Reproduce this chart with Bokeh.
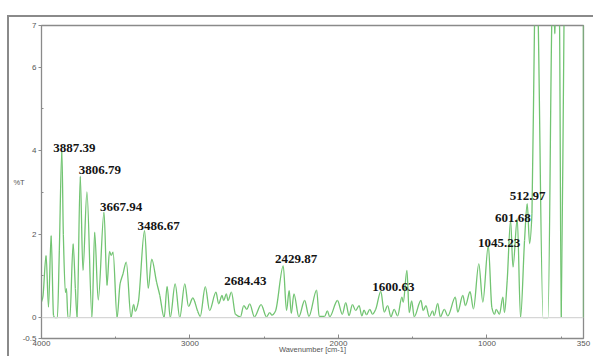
from bokeh.plotting import figure
from bokeh.models import Range1d, FixedTicker, Span, ColumnDataSource
from bokeh.core.properties import value
from bokeh.embed import file_html
from bokeh.resources import INLINE

# FTIR transmittance spectrum, wavenumber in cm-1 (descending) and %T
wavenumber = [4000, 3991, 3969, 3953, 3935, 3919, 3910, 3893, 3880, 3863,
              3853, 3839, 3832, 3822, 3809, 3787, 3772, 3760, 3739, 3721,
              3694, 3660, 3642, 3618, 3579, 3559, 3542, 3530, 3518, 3491,
              3471, 3451, 3429, 3397, 3380, 3368, 3348, 3306, 3281, 3258,
              3225, 3203, 3174, 3154, 3133, 3100, 3069, 3035, 3010, 2981,
              2948, 2931, 2897, 2868, 2825, 2807, 2784, 2773, 2755, 2744,
              2721, 2694, 2660, 2638, 2617, 2598, 2566, 2521, 2485, 2463,
              2448, 2424, 2372, 2350, 2332, 2318, 2300, 2267, 2228, 2199,
              2147, 2130, 2093, 2075, 2059, 2007, 1974, 1951, 1929, 1906,
              1884, 1861, 1843, 1828, 1811, 1789, 1771, 1749, 1715, 1692,
              1669, 1647, 1625, 1602, 1573, 1564, 1539, 1524, 1507, 1490,
              1445, 1429, 1411, 1389, 1366, 1355, 1332, 1314, 1287, 1264,
              1213, 1197, 1163, 1145, 1114, 1091, 1055, 1028, 991, 967,
              949, 938, 916, 893, 882, 864, 841, 825, 796, 774,
              747, 729, 713, 697, 679, 668, 656, 622, 589, 563,
              556, 543, 533, 512, 500, 481, 472, 351, 350]
transmittance = [0.38, 0.49, 1.49, 0.25, 1.97, 0.05, 0.0, 0.0, 1.6, 4.01,
                 2.0, 0.6, 0.7, 0.0, 0.0, 1.77, 0.7, 0.0, 3.39, 1.13,
                 3.01, 0.0, 2.05, 0.42, 2.53, 0.77, 1.59, 1.49, 1.57, 0.0,
                 0.81, 1.05, 1.33, 0.0, 0.32, 0.15, 0.37, 2.09, 0.7, 1.4,
                 0.85, 0.53, 0.0, 0.75, 0.0, 0.81, 0.0, 0.81, 0.27, 0.47,
                 0.15, 0.03, 0.74, 0.17, 0.61, 0.33, 0.53, 0.41, 0.57, 0.41,
                 0.61, 0.08, 0.02, 0.29, 0.2, 0.33, 0.02, 0.31, 0.02, 0.12,
                 0.06, 0.16, 1.24, 0.17, 0.65, 0.1, 0.57, 0.02, 0.41, 0.03,
                 0.66, 0.03, 0.03, 0.16, 0.02, 0.41, 0.08, 0.36, 0.05, 0.31,
                 0.17, 0.29, 0.04, 0.18, 0.07, 0.2, 0.08, 0.2, 0.63, 0.13,
                 0.29, 0.02, 0.2, 0.04, 0.49, 0.37, 1.13, 0.12, 0.4, 0.02,
                 0.41, 0.17, 0.29, 0.02, 0.16, 0.05, 0.34, 0.02, 0.2, 0.04,
                 0.49, 0.13, 0.53, 0.29, 0.62, 0.21, 1.29, 0.37, 1.73, 0.24,
                 0.08, 0.2, 0.08, 0.49, 0.12, 0.88, 2.33, 1.21, 2.37, 0.0,
                 1.85, 2.73, 1.77, 2.5, 7.3, 9.0, 7.3, 0.0, 0.0, 7.2,
                 8.0, 6.8, 8.0, 7.2, 0.0, 7.2, 9.0, 9.0, 0.0]

# annotated bands: label text and the curve maximum each one sits next to
band_labels = ["3887.39", "3806.79", "3667.94", "3486.67", "2684.43",
               "2429.87", "1600.63", "1045.23", "601.68", "512.97"]
band_peak_at = [3863, 3739, 3579, 3306, 2721, 2372, 1715, 991, 841, 729]

# label offsets from their peak, in screen pixels
label_dx = [12.5, 19.7, 17, 14, 14, 12.8, 12.5, 10.8, 2.2, 0.5]
label_dy = [-2, -6, -4.6, -4, -11, -7.3, -4.7, -2, -2, -7.3]

x_ticks = [4000, 3000, 2000, 1000, 350]
x_minor = [3500, 2500, 1500, 500]
y_ticks = [-0.5, 0, 2, 4, 6, 7]
y_minor = [1, 3, 5]
y_tick_text = ["-0.5", "0", "2", "4", "6", "7"]

GREY = "#8a8a8a"
TEXT_GREY = "#555555"
TICK_FONT = "Liberation Sans"


def smooth_segments(xs, ys):
    """Cubic Bezier pieces through every point (monotone tangents, so the
    curve never swings past its neighbouring samples)."""
    n = len(xs)
    slope = [(ys[i + 1] - ys[i]) / (xs[i + 1] - xs[i]) for i in range(n - 1)]
    tang = [0.0] * n
    tang[0], tang[-1] = slope[0], slope[-1]
    for i in range(1, n - 1):
        a, b = slope[i - 1], slope[i]
        tang[i] = 0.0 if a * b <= 0 else 2 * a * b / (a + b)
    seg = dict(x0=[], y0=[], x1=[], y1=[], cx0=[], cy0=[], cx1=[], cy1=[])
    for i in range(n - 1):
        h = xs[i + 1] - xs[i]
        seg["x0"].append(xs[i])
        seg["y0"].append(ys[i])
        seg["x1"].append(xs[i + 1])
        seg["y1"].append(ys[i + 1])
        seg["cx0"].append(xs[i] + h / 3)
        seg["cy0"].append(ys[i] + tang[i] * h / 3)
        seg["cx1"].append(xs[i + 1] - h / 3)
        seg["cy1"].append(ys[i + 1] - tang[i + 1] * h / 3)
    return seg


p = figure(width=593, height=356, output_backend="svg", toolbar_location=None,
           x_range=Range1d(4000, 350), y_range=Range1d(-0.5, 7),
           min_border_left=41, min_border_top=25, min_border_right=10,
           min_border_bottom=18, background_fill_color="white",
           border_fill_alpha=0, outline_line_color=GREY,
           outline_line_width=1.3)
p.xgrid.visible = False
p.ygrid.visible = False

# window frame (left and top edges) painted behind the transparent border
frame_css = (f"linear-gradient({GREY}, {GREY}) 7px 15px / 2px 100% no-repeat, "
             f"linear-gradient({GREY}, {GREY}) 7px 15px / 100% 2px no-repeat, "
             "white")
p.styles = {"background": frame_css}

# baseline at 0 %T
p.add_layout(Span(location=0, dimension="width", line_color="#d6d6d6",
                  line_width=1.2))

p.bezier(x0="x0", y0="y0", x1="x1", y1="y1", cx0="cx0", cy0="cy0",
         cx1="cx1", cy1="cy1",
         source=ColumnDataSource(smooth_segments(wavenumber, transmittance)),
         line_color="#72c472", line_width=1.3)

lookup = dict(zip(wavenumber, transmittance))
src = ColumnDataSource(dict(
    x=band_peak_at,
    y=[lookup[w] for w in band_peak_at],
    text=band_labels,
    dx=label_dx,
    dy=label_dy,
))
p.text(x="x", y="y", text="text", x_offset="dx", y_offset="dy", source=src,
       text_align="center", text_baseline="middle",
       text_font=value("Liberation Serif"), text_font_style="bold",
       text_font_size="13px", text_color="#141414")

xa = p.xaxis[0]
xa.ticker = FixedTicker(ticks=x_ticks, minor_ticks=x_minor)
xa.major_label_overrides = {t: str(t) for t in x_ticks}
xa.major_tick_in = 4
xa.major_tick_out = 0
xa.minor_tick_in = 2
xa.minor_tick_out = 0
xa.major_label_standoff = 2
xa.axis_line_color = GREY
xa.major_tick_line_color = GREY
xa.minor_tick_line_color = GREY
xa.major_label_text_font = TICK_FONT
xa.major_label_text_font_size = "8px"
xa.major_label_text_color = TEXT_GREY
xa.axis_label = "Wavenumber [cm-1]"
xa.axis_label_standoff = -4
xa.axis_label_text_font = TICK_FONT
xa.axis_label_text_font_style = "normal"
xa.axis_label_text_font_size = "7.5px"
xa.axis_label_text_color = TEXT_GREY

ya = p.yaxis[0]
ya.ticker = FixedTicker(ticks=y_ticks, minor_ticks=y_minor)
ya.major_label_overrides = dict(zip(y_ticks, y_tick_text))
ya.major_tick_in = 0
ya.major_tick_out = 3
ya.minor_tick_in = 2
ya.minor_tick_out = 0
ya.major_label_standoff = 2
ya.axis_line_color = GREY
ya.major_tick_line_color = GREY
ya.minor_tick_line_color = GREY
ya.major_label_text_font = TICK_FONT
ya.major_label_text_font_size = "8px"
ya.major_label_text_color = TEXT_GREY
ya.axis_label = "%T"
ya.axis_label_orientation = "horizontal"
ya.axis_label_standoff = -5
ya.axis_label_text_font = TICK_FONT
ya.axis_label_text_font_style = "normal"
ya.axis_label_text_font_size = "7.5px"
ya.axis_label_text_color = TEXT_GREY

open("out.html", "w").write(file_html(p, INLINE))
